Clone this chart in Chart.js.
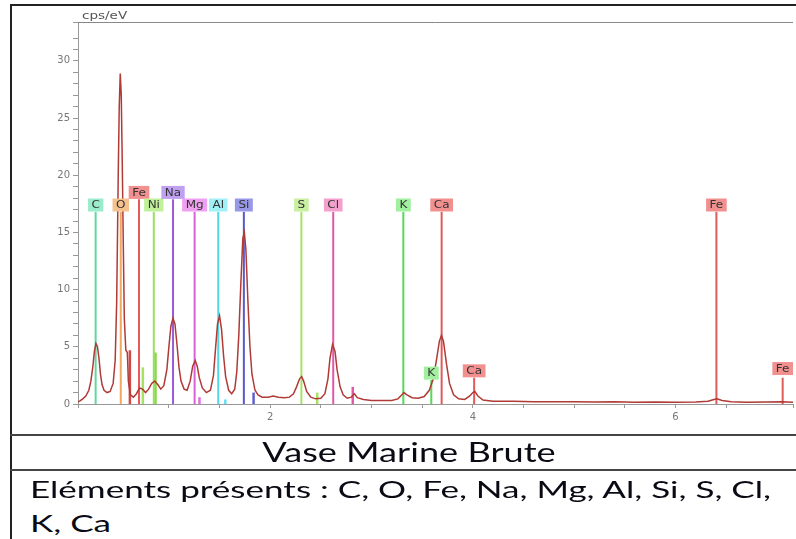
<!DOCTYPE html>
<html>
<head>
<meta charset="utf-8">
<script src="https://cdn.jsdelivr.net/npm/chart.js@4"></script>
<style>
  html, body { margin:0; padding:0; background:#fff; }
  body { width:796px; height:539px; overflow:hidden; position:relative; font-family: Lato, "Open Sans", sans-serif; }
  #chartBox { position:absolute; left:11px; top:5px; width:785px; height:430px; }
  .hl { position:absolute; left:10px; width:800px; height:2px; background:#444; }
  .vl { position:absolute; left:10px; top:4px; width:2px; height:540px; background:#222; }
  .txt { position:absolute; color:#0a0a14; white-space:nowrap; line-height:1; }
</style>
</head>
<body>
<div class="hl" style="top:4px; background:#222;"></div>
<div class="vl"></div>
<div id="chartBox"><canvas id="c"></canvas></div>
<div class="hl" style="top:434px;"></div>
<div class="hl" style="top:469px;"></div>
<div class="txt" style="left:109px; width:600px; text-align:center; top:439px; font-size:26px; transform:scaleX(1.39); transform-origin:300px 0;">Vase Marine Brute</div>
<div class="txt" style="left:30px; top:477px; font-size:24px; transform:scaleX(1.46); transform-origin:0 0;">Eléments présents : C, O, Fe, Na, Mg, Al, Si, S, Cl,</div>
<div class="txt" style="left:30px; top:511px; font-size:24px; transform:scaleX(1.46); transform-origin:0 0;">K, Ca</div>
<script>
// ---- data ----
const energy = [0.10,0.12,0.15,0.18,0.21,0.23,0.25,0.265,0.28,0.295,0.31,0.325,0.34,0.36,0.39,0.42,0.45,0.47,0.485,0.50,0.51,0.52,0.53,0.54,0.55,0.56,0.575,0.59,0.60,0.62,0.65,0.68,0.71,0.74,0.77,0.80,0.83,0.86,0.89,0.92,0.95,0.98,1.00,1.02,1.04,1.06,1.08,1.10,1.12,1.15,1.18,1.21,1.235,1.26,1.28,1.30,1.33,1.37,1.41,1.44,1.46,1.48,1.50,1.52,1.54,1.56,1.59,1.62,1.65,1.67,1.69,1.71,1.73,1.745,1.76,1.78,1.80,1.82,1.85,1.88,1.92,1.98,2.03,2.08,2.14,2.19,2.23,2.26,2.29,2.31,2.33,2.36,2.40,2.45,2.50,2.54,2.57,2.59,2.615,2.64,2.66,2.69,2.72,2.76,2.80,2.83,2.86,2.92,3.00,3.10,3.20,3.26,3.30,3.32,3.35,3.40,3.46,3.52,3.57,3.61,3.64,3.67,3.69,3.71,3.74,3.77,3.81,3.86,3.92,3.97,4.00,4.02,4.05,4.10,4.20,4.40,4.60,4.80,5.00,5.20,5.40,5.60,5.80,6.00,6.20,6.32,6.38,6.41,6.46,6.55,6.70,6.90,7.05,7.20];
const counts = [0.2,0.25,0.45,0.7,1.2,2.0,3.3,4.6,5.3,5.0,4.0,2.6,1.7,1.2,1.0,1.1,1.8,3.8,9.0,20.0,26.0,28.9,27.0,21.0,14.0,7.5,4.7,4.5,2.0,0.8,0.6,0.9,1.4,1.3,1.0,1.3,1.8,2.0,1.7,1.3,1.6,3.0,5.0,6.8,7.5,7.0,5.2,3.2,2.0,1.3,1.2,2.0,3.3,3.8,3.3,2.3,1.4,1.0,1.2,2.5,4.8,7.0,7.7,6.5,4.2,2.4,1.2,0.9,1.3,2.8,6.0,10.5,14.5,15.0,13.5,9.0,5.0,2.6,1.2,0.8,0.6,0.6,0.7,0.6,0.55,0.6,0.9,1.5,2.2,2.4,2.0,1.1,0.6,0.45,0.5,0.9,2.2,4.0,5.2,4.6,3.0,1.5,0.8,0.5,0.6,0.9,0.55,0.4,0.3,0.3,0.3,0.45,0.8,1.0,0.8,0.55,0.5,0.65,1.2,2.2,3.8,5.5,6.0,5.5,3.5,1.8,0.8,0.45,0.4,0.7,1.0,1.1,0.7,0.35,0.25,0.25,0.2,0.2,0.2,0.18,0.2,0.15,0.18,0.15,0.18,0.25,0.4,0.45,0.3,0.2,0.15,0.18,0.2,0.15];

const elemNames  = ['C','O','Fe','Ni','Na','Mg','Al','Si','S','Cl','K','Ca','K','Ca','Fe','Fe'];
const elemEnergy = [0.277,0.525,0.705,0.851,1.041,1.254,1.487,1.740,2.308,2.622,3.314,3.692,3.590,4.013,6.404,7.058];
const elemTop    = [16.8,16.8,17.9,16.8,17.9,16.8,16.8,16.8,16.8,16.8,16.8,16.8,2.1,2.3,16.8,2.3];
const elemLabelY = [17.4,17.4,18.5,17.4,18.5,17.4,17.4,17.4,17.4,17.4,17.4,17.4,2.7,2.9,17.4,3.1];
const elemLine   = ['#5fd8a0','#f0a860','#e85a5a','#98e060','#9a5ad8','#d860d8','#50d8e8','#5858c8','#a8e068','#e058a8','#58d858','#e05a5a','#58d858','#e05a5a','#e05a5a','#e05a5a'];
const elemBox    = ['#9aeccb','#f5c28e','#f29090','#c0f098','#c0a0f0','#f0a0f0','#a0f0f8','#9898e8','#c8f0a0','#f4a0cc','#a0f0a0','#f29090','#a0f0a0','#f29090','#f29090','#f29090'];

const minorEnergy = [0.615,0.743,0.868,1.302,1.557,1.836,2.464,2.815];
const minorHeight = [4.7,3.2,4.5,0.6,0.4,1.0,1.0,1.5];
const minorColor  = ['#d04848','#a8e060','#88d848','#e070e0','#60e0f0','#6060d0','#a8e068','#e058a8'];

const yLabels = [0,5,10,15,20,25,30];
const xLabels = [2,4,6];

// ---- datasets ----
const datasets = [];
elemEnergy.forEach((e,i)=>{
  datasets.push({type:'line', data:[{x:e,y:0},{x:e,y:elemTop[i]}], borderColor:elemLine[i], borderWidth:2, pointRadius:0, order:2});
});
minorEnergy.forEach((e,i)=>{
  datasets.push({type:'line', data:[{x:e,y:0},{x:e,y:minorHeight[i]}], borderColor:minorColor[i], borderWidth:2.5, pointRadius:0, order:2});
});
datasets.unshift({type:'line', data: energy.map((e,i)=>({x:e,y:counts[i]})), borderColor:'#b03a35', borderWidth:1.5, pointRadius:0, tension:0, order:1});

const labelPlugin = {
  id:'labels',
  afterDatasetsDraw(chart){
    const {ctx, chartArea, scales:{x,y}} = chart;
    ctx.save();
    ctx.strokeStyle = '#888'; ctx.lineWidth = 1;
    ctx.beginPath(); ctx.moveTo(chartArea.left, chartArea.top+0.5); ctx.lineTo(chartArea.right, chartArea.top+0.5); ctx.stroke();
    // axis unit
    ctx.save();
    ctx.translate(chartArea.left+4, chartArea.top-3);
    ctx.scale(1.35, 1);
    ctx.fillStyle = '#555'; ctx.font = '10px "DejaVu Sans", sans-serif'; ctx.textBaseline='alphabetic'; ctx.textAlign='left';
    ctx.fillText('cps/eV', 0, 0);
    ctx.restore();
    ctx.font = '10px "DejaVu Sans", sans-serif';
    ctx.textAlign='center'; ctx.textBaseline='middle';
    elemNames.forEach((n,i)=>{
      const px = x.getPixelForValue(elemEnergy[i]);
      const py = y.getPixelForValue(elemLabelY[i]);
      if (px > chartArea.right + 10) return;
      const w = ctx.measureText(n).width * 1.2 + 7;
      ctx.fillStyle = elemBox[i];
      ctx.fillRect(px - w/2, py - 6.5, w, 13);
      ctx.save();
      ctx.translate(px, py+0.5);
      ctx.scale(1.2, 1);
      ctx.fillStyle = '#333';
      ctx.fillText(n, 0, 0);
      ctx.restore();
    });
    ctx.restore();
  }
};

new Chart(document.getElementById('c'), {
  type:'scatter',
  data:{datasets},
  options:{
    responsive:true, maintainAspectRatio:false, animation:false,
    layout:{padding:{top:17, right:0, left:0, bottom:0}},
    plugins:{legend:{display:false}, tooltip:{enabled:false}},
    scales:{
      x:{type:'linear', min:0.103, max:7.16,
         afterFit(s){ s.height = 31; },
         border:{display:true, color:'#999'},
         grid:{drawOnChartArea:false, drawTicks:true, tickLength:4, color:'#999'},
         ticks:{stepSize:0.5, autoSkip:false, maxRotation:0, padding:3, color:'#777', font:{size:10, family:'"DejaVu Sans", sans-serif'},
                callback:(v)=> xLabels.some(t=>Math.abs(t-v)<1e-6) ? String(Math.round(v)) : ''}},
      y:{type:'linear', min:0, max:33.4,
         afterFit(s){ s.width = 67; },
         border:{display:true, color:'#999'},
         grid:{drawOnChartArea:false, drawTicks:true, tickLength:5, color:'#999'},
         ticks:{stepSize:1, autoSkip:false, padding:3, color:'#777', font:{size:10, family:'"DejaVu Sans", sans-serif'},
                callback:(v)=> yLabels.some(t=>Math.abs(t-v)<1e-6) ? String(Math.round(v)) : ''}}
    }
  },
  plugins:[labelPlugin]
});
</script>
</body>
</html>
